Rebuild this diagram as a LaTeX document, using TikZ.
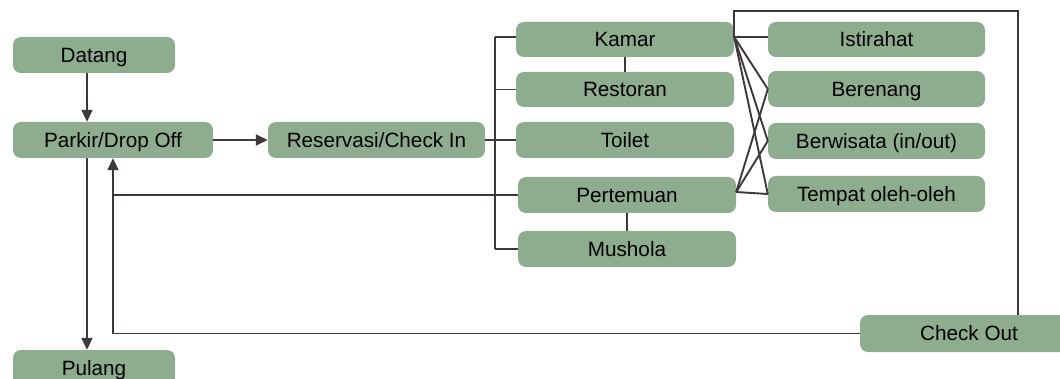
\documentclass[tikz,border=0pt]{standalone}
\usepackage{fontspec}
\setmainfont{Liberation Sans}
\usetikzlibrary{arrows.meta}
\definecolor{boxgreen}{RGB}{142,172,142}
\definecolor{linegray}{RGB}{62,56,56}
\begin{document}
\begin{tikzpicture}[x=1pt,y=-1pt,
  box/.style={draw=none,fill=boxgreen,rounded corners=8pt,minimum height=36pt,
    inner sep=0pt,text height=14.8pt,text depth=0pt,
    font=\fontsize{20.7}{24}\selectfont},
  conn/.style={draw=linegray,line width=1.9pt},
  arr/.style={conn,-{Triangle[length=12pt,width=11pt]}}]
\useasboundingbox (0,0) rectangle (1060,379);
\clip (0,0) rectangle (1060,379);

% left column
\node[box,minimum width=162pt] (datang) at (94,55) {Datang};
\node[box,minimum width=200pt] (parkir) at (113,140) {Parkir/Drop Off};
\node[box,minimum width=162pt] (pulang) at (94,368) {Pulang};
\node[box,minimum width=217pt] (resv) at (376.5,140) {Reservasi/Check In};

% facilities
\node[box,minimum width=218pt,minimum height=35pt] (kamar) at (625,39.5) {Kamar};
\node[box,minimum width=218pt,minimum height=35pt] (restoran) at (625,89.5) {Restoran};
\node[box,minimum width=218pt] (toilet) at (625,140) {Toilet};
\node[box,minimum width=218pt] (pertemuan) at (627,195) {Pertemuan};
\node[box,minimum width=218pt] (mushola) at (627,249) {Mushola};

% activities
\node[box,minimum width=217pt,minimum height=35pt] (istirahat) at (876.5,39.5) {Istirahat};
\node[box,minimum width=217pt] (berenang) at (876.5,89) {Berenang};
\node[box,minimum width=217pt] (berwisata) at (876.5,141) {Berwisata (in/out)};
\node[box,minimum width=217pt] (tempat) at (876.5,194) {Tempat oleh-oleh};

\node[box,minimum width=218pt,minimum height=37pt] (checkout) at (969,333.5) {Check Out};

% helper coordinates
\coordinate (xa) at (87,0);
\coordinate (bx) at (495,0);
\coordinate (ka) at ([yshift=2.5pt]kamar.east);
\coordinate (pe) at ([yshift=3pt]pertemuan.east);
\coordinate (fr) at (1018,11);

% arrival and departure
\draw[arr] (datang.south -| xa) -- (parkir.north -| xa);
\draw[arr] (parkir.south -| xa) -- (pulang.north -| xa);
\draw[arr] (parkir.east) -- (resv.west);

% bracket to facilities
\draw[conn] (resv.east) -- (resv.east -| bx);
\draw[conn] (bx |- ka) -- (bx |- mushola.west);
\draw[conn] (bx |- ka) -- (ka -| kamar.west);
\foreach \n in {restoran,toilet,pertemuan,mushola}
  \draw[conn] (bx |- \n.west) -- (\n.west);
\draw[conn] (kamar.south) -- (restoran.north);
\draw[conn] (pertemuan.south) -- (mushola.north);

% facilities to activities
\draw[conn] (ka) -- (ka -| istirahat.west);
\draw[conn] (ka) -- (berenang.west);
\draw[conn] (ka) -- (berwisata.west);
\draw[conn] (ka) -- (tempat.west);
\draw[conn] (pe) -- (berenang.west);
\draw[conn] (pe) -- (berwisata.west);
\draw[conn] (pe) -- (tempat.west);

% check out loop
\draw[conn] (ka) |- (fr) -- (fr |- checkout.north);
\draw[arr] (checkout.west) -| (parkir.south);
\draw[conn] (pertemuan.west) -- (pertemuan.west -| parkir.south);
\end{tikzpicture}
\end{document}
